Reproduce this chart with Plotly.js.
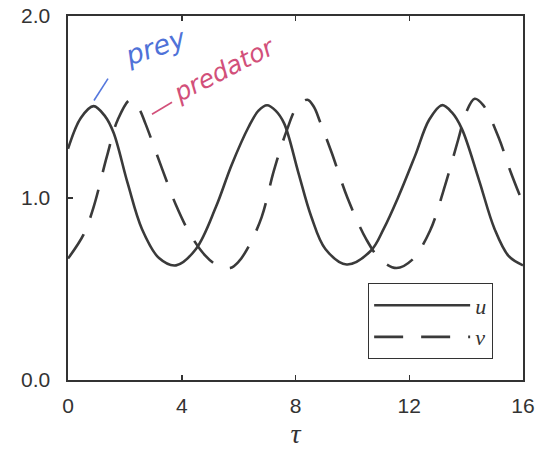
<!DOCTYPE html>
<html>
<head>
<meta charset="utf-8">
<script src="https://cdn.plot.ly/plotly-3.0.1.min.js"></script>
<style>html,body{margin:0;padding:0;background:#fff;}#chart{width:541px;height:449px;}</style>
</head>
<body>
<div id="chart"></div>
<script>
// prey u (solid)
var tauU = [0, 0.45, 0.9, 1.3, 1.6, 2.1, 2.6, 3.2, 3.8, 4.5, 5.2, 5.75, 6.35, 6.7, 7.0, 7.3, 7.6, 8.1, 8.55, 9.05, 9.8, 10.65, 11.1, 11.6, 12.2, 12.7, 13.15, 13.5, 13.85, 14.45, 15.0, 15.5, 16];
var u    = [1.27, 1.44, 1.505, 1.45, 1.36, 1.08, 0.83, 0.67, 0.63, 0.72, 0.95, 1.18, 1.39, 1.48, 1.51, 1.48, 1.41, 1.14, 0.90, 0.72, 0.635, 0.71, 0.83, 1.0, 1.23, 1.43, 1.51, 1.47, 1.38, 1.10, 0.83, 0.68, 0.63];
// predator v (dashed)
var tauV = [0, 0.55, 0.9, 1.37, 1.75, 2.2, 2.5, 2.72, 3.31, 3.8, 4.3, 4.82, 5.25, 5.7, 6.0, 6.34, 6.81, 7.24, 7.69, 8.05, 8.42, 8.65, 8.86, 9.27, 9.83, 10.5, 11.0, 11.55, 12.1, 12.73, 13.26, 13.72, 14.0, 14.3, 14.6, 15.15, 15.55, 16];
var v    = [0.667, 0.80, 0.95, 1.23, 1.43, 1.54, 1.49, 1.41, 1.16, 0.96, 0.80, 0.685, 0.63, 0.615, 0.65, 0.73, 0.895, 1.15, 1.37, 1.50, 1.54, 1.50, 1.42, 1.25, 1.00, 0.77, 0.66, 0.615, 0.66, 0.82, 1.07, 1.32, 1.47, 1.545, 1.51, 1.33, 1.15, 0.97];
var xTicks = [0, 4, 8, 12, 16];
var yTicks = [0, 1, 2];
var seriesNames = ['<i>u</i>', '<i>v</i>'];

var ink = '#3a3a3a';
var traces = [
  {x: tauU, y: u, type: 'scatter', mode: 'lines', name: seriesNames[0],
   line: {color: ink, width: 2.6, shape: 'spline', smoothing: 1}},
  {x: tauV, y: v, type: 'scatter', mode: 'lines', name: seriesNames[1],
   line: {color: ink, width: 2.6, shape: 'spline', smoothing: 1, dash: '29px,18px'}}
];

var layout = {
  width: 541, height: 449,
  margin: {l: 68, r: 18, t: 16, b: 69},
  paper_bgcolor: '#fff', plot_bgcolor: '#fff',
  font: {family: 'Liberation Sans, Arial, sans-serif', size: 21, color: '#333'},
  showlegend: true,
  legend: {x: 0.659, y: 0.266, xanchor: 'left', yanchor: 'top',
    bordercolor: '#333', borderwidth: 1.3, bgcolor: '#fff',
    font: {family: 'Liberation Serif, serif', size: 22, color: '#333'},
    itemwidth: 96, tracegroupgap: 0},
  xaxis: {range: [0, 16], tickvals: xTicks, ticktext: xTicks.map(String),
    ticks: 'inside', ticklen: 5, tickwidth: 1.5, tickcolor: '#333',
    showline: true, linecolor: '#333', linewidth: 1.6, mirror: 'ticks',
    showgrid: false, zeroline: false, ticklabelstandoff: 6,
    title: {text: '<i>τ</i>', font: {family: 'Liberation Serif, serif', size: 28, color: '#333'}, standoff: 14}},
  yaxis: {range: [0, 2], tickvals: yTicks, ticktext: yTicks.map(function(t){return t.toFixed(1);}),
    ticks: 'inside', ticklen: 5, tickwidth: 1.5, tickcolor: '#333',
    showline: true, linecolor: '#333', linewidth: 1.6, mirror: true,
    showgrid: false, zeroline: false, ticklabelstandoff: 12},
  shapes: [
    {type: 'line', xref: 'paper', yref: 'paper', x0: 0.0571, y0: 0.768, x1: 0.0879, y1: 0.828,
     line: {color: '#5577dd', width: 1.6}},
    {type: 'line', xref: 'paper', yref: 'paper', x0: 0.1846, y0: 0.730, x1: 0.2286, y1: 0.763,
     line: {color: '#d2507a', width: 1.6}}
  ],
  annotations: [
    {xref: 'paper', yref: 'paper', x: 0.1934, y: 0.916, xanchor: 'center', yanchor: 'middle',
     text: 'prey', showarrow: false,
     textangle: -19, font: {family: 'DejaVu Sans', size: 27, color: '#4f72d8', style: 'italic'}},
    {xref: 'paper', yref: 'paper', x: 0.345, y: 0.852, xanchor: 'center', yanchor: 'middle',
     text: 'predator', showarrow: false,
     textangle: -27, font: {family: 'DejaVu Sans', size: 25, color: '#d2507a', style: 'italic'}}
  ]
};

Plotly.newPlot('chart', traces, layout, {displayModeBar: false, staticPlot: true});
</script>
</body>
</html>
